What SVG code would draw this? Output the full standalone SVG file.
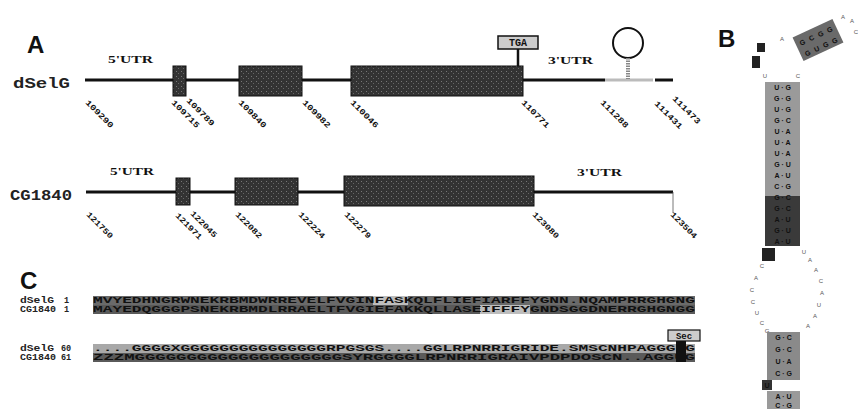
<svg xmlns="http://www.w3.org/2000/svg" width="858" height="409" viewBox="0 0 858 409">
<style>
.panel{font-family:"Liberation Sans",Arial,sans-serif;font-weight:bold;font-size:24px;fill:#111}
.gname{font-family:"Liberation Mono","Courier New",monospace;font-weight:bold;font-size:14px;fill:#222}
.utr{font-family:"Liberation Serif","Times New Roman",serif;font-weight:bold;font-size:10px;fill:#111}
.pos{font-family:"Liberation Mono",monospace;font-weight:bold;font-size:8px;fill:#111}
.gline{stroke:#111;stroke-width:3;fill:none}
.exon{fill:url(#stipple);stroke:#111;stroke-width:1}
.seq{font-family:"Liberation Mono",monospace;font-weight:bold;font-size:8.5px;fill:#111}
.sname{font-family:"Liberation Mono",monospace;font-weight:bold;font-size:8.5px;fill:#222}
.rna{font-family:"Liberation Sans",Arial,sans-serif;font-weight:bold;font-size:7px;fill:#111;text-anchor:middle}
.rnas{font-family:"Liberation Sans",Arial,sans-serif;font-size:6px;fill:#555;text-anchor:middle}
</style>
<defs>
<pattern id="stipple" width="5" height="5" patternUnits="userSpaceOnUse">
<rect width="5" height="5" fill="#333"/>
<rect x="1" y="1" width="1" height="1" fill="#777"/>
<rect x="3" y="3" width="1" height="1" fill="#666"/>
</pattern>
</defs>
<rect width="858" height="409" fill="#fff"/>

<!-- Panel A -->
<g id="panelA">
<text class="panel" x="27" y="53">A</text>
<g id="dSelG">
<text class="gname" x="13" y="88" textLength="57" lengthAdjust="spacingAndGlyphs">dSelG</text>
<text class="utr" x="108" y="63" textLength="45" lengthAdjust="spacingAndGlyphs">5'UTR</text>
<text class="utr" x="548" y="64" textLength="45" lengthAdjust="spacingAndGlyphs">3'UTR</text>
<line class="gline" x1="85" y1="80" x2="605" y2="80"/>
<line x1="605" y1="80" x2="653" y2="80" stroke="#bbb" stroke-width="3"/>
<line class="gline" x1="655" y1="80" x2="673" y2="80"/>
<rect class="exon" x="173" y="66" width="13" height="30"/>
<rect class="exon" x="239" y="66" width="63" height="30"/>
<rect class="exon" x="351" y="66" width="172" height="30"/>
<line x1="518" y1="49" x2="518" y2="66" stroke="#111" stroke-width="2.5"/>
<rect x="498" y="36" width="40" height="13" fill="#ccc" stroke="#111" stroke-width="1.5"/>
<text x="518" y="46" text-anchor="middle" font-family="Liberation Mono,monospace" font-weight="bold" font-size="10" fill="#111">TGA</text>
<circle cx="628" cy="43" r="15" fill="none" stroke="#111" stroke-width="2"/>
<line x1="628" y1="58" x2="628" y2="79" stroke="#888" stroke-width="4" stroke-dasharray="1.5 1"/>
<g class="pos">
<text x="85" y="103" transform="rotate(45 85 103)" textLength="36" lengthAdjust="spacingAndGlyphs">109290</text>
<text x="171" y="103" transform="rotate(45 171 103)" textLength="36" lengthAdjust="spacingAndGlyphs">109715</text>
<text x="186" y="101" transform="rotate(45 186 101)" textLength="36" lengthAdjust="spacingAndGlyphs">109789</text>
<text x="238" y="103" transform="rotate(45 238 103)" textLength="36" lengthAdjust="spacingAndGlyphs">109840</text>
<text x="302" y="103" transform="rotate(45 302 103)" textLength="36" lengthAdjust="spacingAndGlyphs">109982</text>
<text x="350" y="103" transform="rotate(45 350 103)" textLength="36" lengthAdjust="spacingAndGlyphs">110046</text>
<text x="521" y="103" transform="rotate(45 521 103)" textLength="36" lengthAdjust="spacingAndGlyphs">110771</text>
<text x="600" y="103" transform="rotate(45 600 103)" textLength="36" lengthAdjust="spacingAndGlyphs">111288</text>
<text x="654" y="104" transform="rotate(45 654 104)" textLength="36" lengthAdjust="spacingAndGlyphs">111431</text>
<text x="672" y="99" transform="rotate(45 672 99)" textLength="36" lengthAdjust="spacingAndGlyphs">111473</text>
</g>
</g>
<g id="CG1840">
<text class="gname" x="10" y="200" textLength="62" lengthAdjust="spacingAndGlyphs">CG1840</text>
<text class="utr" x="110" y="175" textLength="44" lengthAdjust="spacingAndGlyphs">5'UTR</text>
<text class="utr" x="577" y="176" textLength="45" lengthAdjust="spacingAndGlyphs">3'UTR</text>
<line class="gline" x1="86" y1="192" x2="673" y2="192"/>
<line x1="673" y1="192" x2="673" y2="213" stroke="#555" stroke-width="0.8"/>
<rect class="exon" x="176" y="178" width="14" height="27"/>
<rect class="exon" x="235" y="178" width="63" height="27"/>
<rect class="exon" x="344" y="176" width="190" height="30"/>
<g class="pos">
<text x="86" y="215" transform="rotate(45 86 215)" textLength="34" lengthAdjust="spacingAndGlyphs">121750</text>
<text x="175" y="216" transform="rotate(45 175 216)" textLength="34" lengthAdjust="spacingAndGlyphs">121971</text>
<text x="190" y="214" transform="rotate(45 190 214)" textLength="34" lengthAdjust="spacingAndGlyphs">122045</text>
<text x="235" y="215" transform="rotate(45 235 215)" textLength="34" lengthAdjust="spacingAndGlyphs">122082</text>
<text x="298" y="215" transform="rotate(45 298 215)" textLength="34" lengthAdjust="spacingAndGlyphs">122224</text>
<text x="344" y="215" transform="rotate(45 344 215)" textLength="34" lengthAdjust="spacingAndGlyphs">122279</text>
<text x="532" y="215" transform="rotate(45 532 215)" textLength="34" lengthAdjust="spacingAndGlyphs">123080</text>
<text x="670" y="215" transform="rotate(45 670 215)" textLength="34" lengthAdjust="spacingAndGlyphs">123504</text>
</g>
</g>
</g>

<!-- Panel B -->
<g id="panelB">
<text class="panel" x="718" y="47">B</text>
<rect x="757" y="43" width="8" height="9" fill="#222"/>
<rect x="752" y="56" width="8" height="12" fill="#222"/>
<g transform="rotate(-25 818 40)">
<rect x="796" y="27" width="44" height="26" fill="#6a6a6a"/>
<text class="rna" x="803" y="38">G</text><text class="rna" x="813" y="38">C</text><text class="rna" x="823" y="38">G</text><text class="rna" x="833" y="38">G</text>
<text class="rna" x="803" y="50">G</text><text class="rna" x="813" y="50">U</text><text class="rna" x="823" y="50">G</text><text class="rna" x="833" y="50">G</text>
</g>
<text class="rnas" x="782" y="41">A</text>
<text class="rnas" x="843" y="19">A</text>
<text class="rnas" x="852" y="23">A</text>
<text class="rnas" x="856" y="34">C</text>
<text class="rnas" x="765" y="78">U</text>
<text class="rnas" x="798" y="78">C</text>
<rect x="765" y="82" width="35" height="114" fill="#9a9a9a"/>
<rect x="765" y="196" width="35" height="50" fill="#3a3a3a"/>
<g id="stem1">
<text class="rna" x="782.5" y="90">U · G</text>
<text class="rna" x="782.5" y="101">G · G</text>
<text class="rna" x="782.5" y="112">U · G</text>
<text class="rna" x="782.5" y="123">G · C</text>
<text class="rna" x="782.5" y="134">U · A</text>
<text class="rna" x="782.5" y="145">U · A</text>
<text class="rna" x="782.5" y="156">U · A</text>
<text class="rna" x="782.5" y="167">G · U</text>
<text class="rna" x="782.5" y="178">A · U</text>
<text class="rna" x="782.5" y="189">C · G</text>
<text class="rna" x="782.5" y="200">G · C</text>
<text class="rna" x="782.5" y="211">G · C</text>
<text class="rna" x="782.5" y="222">A · U</text>
<text class="rna" x="782.5" y="233">G · U</text>
<text class="rna" x="782.5" y="244">A · U</text>
</g>
<rect x="762" y="248" width="13" height="13" fill="#222"/>
<g id="loop">
<text class="rnas" x="762" y="268">C</text>
<text class="rnas" x="756" y="280">A</text>
<text class="rnas" x="752" y="292">C</text>
<text class="rnas" x="753" y="304">C</text>
<text class="rnas" x="757" y="315">U</text>
<text class="rnas" x="762" y="325">C</text>
<text class="rnas" x="767" y="333">G</text>
<text class="rnas" x="804" y="254">U</text>
<text class="rnas" x="810" y="262">A</text>
<text class="rnas" x="816" y="272">A</text>
<text class="rnas" x="821" y="283">C</text>
<text class="rnas" x="822" y="295">A</text>
<text class="rnas" x="819" y="307">U</text>
<text class="rnas" x="815" y="318">A</text>
<text class="rnas" x="808" y="328">A</text>
</g>
<rect x="767" y="332" width="33" height="48" fill="#8a8a8a"/>
<text class="rna" x="783.5" y="340">G · C</text>
<text class="rna" x="783.5" y="352">G · C</text>
<text class="rna" x="783.5" y="364">U · A</text>
<text class="rna" x="783.5" y="376">C · G</text>
<rect x="762" y="380" width="10" height="10" fill="#333"/>
<text class="rna" x="767" y="388" fill="#ccc">U</text>
<rect x="767" y="391" width="33" height="18" fill="#9a9a9a"/>
<text class="rna" x="783.5" y="399">A · U</text>
<text class="rna" x="783.5" y="408">C · G</text>
</g>

<!-- Panel C -->
<g id="panelC">
<text class="panel" x="20" y="289">C</text>
<rect x="93" y="296" width="602" height="9" fill="#6a6a6a"/>
<rect x="93" y="305" width="602" height="9" fill="#5a5a5a"/>
<rect x="373" y="296" width="35" height="9" fill="#bdbdbd"/>
<rect x="480" y="305" width="50" height="9" fill="#bdbdbd"/>
<text class="sname" x="20" y="303" textLength="34" lengthAdjust="spacingAndGlyphs">dSelG</text>
<text class="sname" x="20" y="312" textLength="36" lengthAdjust="spacingAndGlyphs">CG1840</text>
<text class="sname" x="64" y="303">1</text>
<text class="sname" x="64" y="312">1</text>
<text class="seq" x="93" y="303" textLength="602" lengthAdjust="spacingAndGlyphs">MVYEDHNGRWNEKRBMDWRREVELFVGINFASKQLFLIEFIARFFYGNN.NQAMPRRGHGNG</text>
<text class="seq" x="93" y="312" textLength="602" lengthAdjust="spacingAndGlyphs">MAYEDQGGGPSNEKRBMDLRRAELTFVGIEFAKKQLLASEIFFFYGNDSGGDNERRGHGNGG</text>
<rect x="668" y="330" width="32" height="11" fill="#ccc" stroke="#111" stroke-width="1.2"/>
<text x="684" y="339" text-anchor="middle" font-family="Liberation Mono,monospace" font-weight="bold" font-size="9" fill="#111">Sec</text>
<rect x="93" y="344" width="602" height="9" fill="#a8a8a8"/>
<rect x="93" y="353" width="602" height="9" fill="#5a5a5a"/>
<rect x="676" y="341" width="10" height="21" fill="#111"/>
<text class="sname" x="20" y="351" textLength="34" lengthAdjust="spacingAndGlyphs">dSelG</text>
<text class="sname" x="20" y="360" textLength="36" lengthAdjust="spacingAndGlyphs">CG1840</text>
<text class="sname" x="61" y="351">60</text>
<text class="sname" x="61" y="360">61</text>
<text class="seq" x="93" y="351" textLength="602" lengthAdjust="spacingAndGlyphs">....GGGGXGGGGGGGGGGGGGGGRPGSGS....GGLRPNRRIGRIDE.SMSCNHPAGGGUG</text>
<text class="seq" x="93" y="360" textLength="602" lengthAdjust="spacingAndGlyphs">ZZZMGGGGGGGGGGGGGGGGGGGGSYRGGGGLRPNRRIGRAIVPDPDOSCN..AGGUG</text>
</g>
</svg>
